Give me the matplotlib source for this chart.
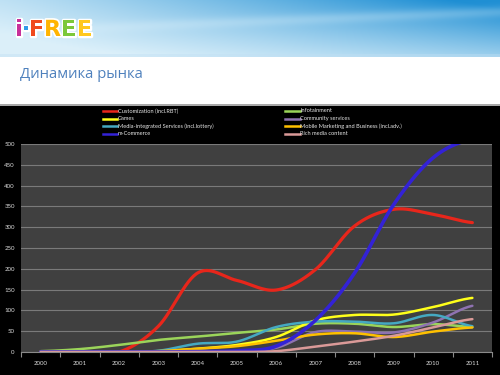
import numpy as np
import matplotlib
matplotlib.use("Agg")
import matplotlib.pyplot as plt
from matplotlib.patches import Rectangle
from matplotlib.lines import Line2D
import matplotlib.patheffects as pe

# ---------------- data ----------------
years = ['2000', '2001', '2002', '2003', '2004', '2005',
         '2006', '2007', '2008', '2009', '2010', '2011']
customization = [0, 0, 0, 62, 190, 172, 149, 198, 303, 343, 331, 311]
infotainment = [2, 7, 17, 29, 37, 46, 54, 68, 68, 60, 67, 60]
games = [0, 0, 0, 2, 8, 17, 36, 76, 89, 90, 108, 130]
community = [0, 0, 0, 0, 0, 2, 10, 48, 49, 47, 71, 111]
media_integrated = [0, 0, 0, 3, 20, 25, 60, 73, 73, 69, 89, 62]
mobile_marketing = [0, 0, 0, 2, 8, 14, 27, 42, 45, 36, 49, 59]
m_commerce = [0, 0, 0, 0, 1, 3, 14, 76, 190, 355, 467, 512]
rich_media = [0, 0, 0, 0, 0, 0, 2, 13, 25, 39, 59, 79]

series_names = ['Customization (incl.RBT)', 'Infotainment', 'Games',
                'Community services', 'Media-integrated Services (incl.lottery)',
                'Mobile Marketing and Business (incl.adv.)', 'm-Commerce',
                'Rich media content']
series_values = [customization, infotainment, games, community,
                 media_integrated, mobile_marketing, m_commerce, rich_media]
series_colors = ['#E8261B', '#9BD45A', '#FFFF1A', '#8E72B0',
                 '#45A9C2', '#FFC000', '#3322D6', '#DA9A98']
series_widths = [2.3, 1.8, 1.8, 1.8, 1.8, 1.8, 2.6, 1.8]
yticks_vals = list(range(0, 501, 50))
title_text = 'Динамика рынка'


def smooth(vals, n=30):
    p = np.asarray(vals, float)
    k = len(p)
    xs, ys = [], []
    for i in range(k - 1):
        p0 = p[i - 1] if i > 0 else p[i]
        p3 = p[i + 2] if i + 2 < k else p[i + 1]
        m1 = (p[i + 1] - p0) / 2.0
        m2 = (p3 - p[i]) / 2.0
        t = np.linspace(0, 1, n, endpoint=(i == k - 2))
        h00 = 2 * t**3 - 3 * t**2 + 1
        h10 = t**3 - 2 * t**2 + t
        h01 = -2 * t**3 + 3 * t**2
        h11 = t**3 - t**2
        ys.append(h00 * p[i] + h10 * m1 + h01 * p[i + 1] + h11 * m2)
        xs.append(i + t)
    return np.concatenate(xs), np.concatenate(ys)


W, H = 500, 375
fig = plt.figure(figsize=(5, 3.75), dpi=100)
fig.patch.set_facecolor('white')

# ---------------- header ----------------
hh = 57
hax = fig.add_axes([0, 1 - hh / H, 1, hh / H])
hax.axis('off')
gx = np.linspace(0, 1, 500)[None, :]
gy = np.linspace(0, 1, hh)[:, None]
light = np.array([0.86, 0.94, 0.98])
dark = np.array([0.12, 0.56, 0.83])
w = np.clip(0.15 + 0.95 * gx**1.1 * (1 - 0.55 * gy) - 0.25 * gy, 0, 1)
streak = np.exp(-((gy - 0.55 + 0.35 * gx) ** 2) / 0.01) * 0.25 * gx
w = np.clip(w - streak, 0, 1)
img = light[None, None, :] * (1 - w[..., None]) + dark[None, None, :] * w[..., None]
img[-3:, :, :] = img[-3:, :, :] * 0.6 + 0.4 * np.array([0.75, 0.87, 0.95])
hax.imshow(img, aspect='auto', extent=[0, 1, 0, 1])
hax.set_xlim(0, 1)
hax.set_ylim(0, 1)

logo = [('i', '#C8309A'), ('·', '#2F9BE8'), ('F', '#F04A1E'),
        ('R', '#FFB400'), ('E', '#7CC83A'), ('E', '#FFC81E')]
lx = [15, 22, 29, 44, 61, 77]
for (ch, col), xx in zip(logo, lx):
    fig.text(xx / W, 1 - 30 / H, ch, fontsize=16, fontweight='heavy',
             color=col, va='center', ha='left', family='DejaVu Sans',
             path_effects=[pe.withStroke(linewidth=2.5, foreground='white')])

fig.text(20 / W, 1 - 75 / H, title_text, fontsize=10.6, color='#4F81BD',
         va='center', ha='left', family='Open Sans')

# ---------------- chart background ----------------
top_black = 104
fig.add_artist(Rectangle((0, 0), 1, (H - top_black) / H, transform=fig.transFigure,
                         facecolor='black', edgecolor='none', zorder=-2))
fig.add_artist(Rectangle((0, (H - top_black - 2) / H), 1, 2 / H, transform=fig.transFigure,
                         facecolor='#A8A8A8', edgecolor='none', zorder=-1))

# ---------------- legend (manual) ----------------
rows_y = [111, 118.7, 126.3, 134]
left_order = [0, 2, 4, 6]
right_order = [1, 3, 5, 7]
for col_idx, (order, hx0, hx1) in enumerate([(left_order, 103, 117), (right_order, 285, 300)]):
    for r, si in enumerate(order):
        yy = 1 - rows_y[r] / H
        fig.add_artist(Line2D([hx0 / W, hx1 / W], [yy, yy], transform=fig.transFigure,
                              color=series_colors[si], lw=1.8))
        fig.text((hx1 + 0.5) / W, yy, series_names[si], fontsize=4.1, color='#E8E8E8',
                 va='center', ha='left', family='Lato')

# ---------------- main axes ----------------
ax = fig.add_axes([21 / W, 23 / H, 471 / W, 208 / H])
ax.set_facecolor('#404040')
for si, vals in enumerate(series_values):
    xs, ys = smooth(vals)
    ax.plot(xs, ys, color=series_colors[si], lw=series_widths[si],
            solid_capstyle='round', solid_joinstyle='round')

ax.set_xlim(-0.5, len(years) - 0.5)
ax.set_ylim(0, 500)
ax.set_yticks(yticks_vals)
ax.set_yticklabels([str(v) for v in yticks_vals])
ax.set_xticks(range(len(years)))
ax.set_xticklabels(years)
ax.set_xticks(np.arange(-0.5, len(years), 1.0), minor=True)
ax.grid(axis='y', color='#7A7A7A', lw=0.8)
ax.set_axisbelow(True)
ax.tick_params(axis='x', which='major', length=0, pad=6.5, labelsize=4.4,
               labelcolor='#D9D9D9')
ax.tick_params(axis='x', which='minor', length=3.5, width=0.8, color='#8A8A8A',
               direction='out')
ax.tick_params(axis='y', which='major', length=0, pad=4.5, labelsize=4.4,
               labelcolor='#D9D9D9')
for lab in ax.get_xticklabels() + ax.get_yticklabels():
    lab.set_family('Lato')
for s in ['top', 'right', 'left']:
    ax.spines[s].set_visible(False)
ax.spines['bottom'].set_color('#8A8A8A')
ax.spines['bottom'].set_linewidth(0.8)

fig.savefig('out.png', dpi=100, facecolor=fig.get_facecolor())
